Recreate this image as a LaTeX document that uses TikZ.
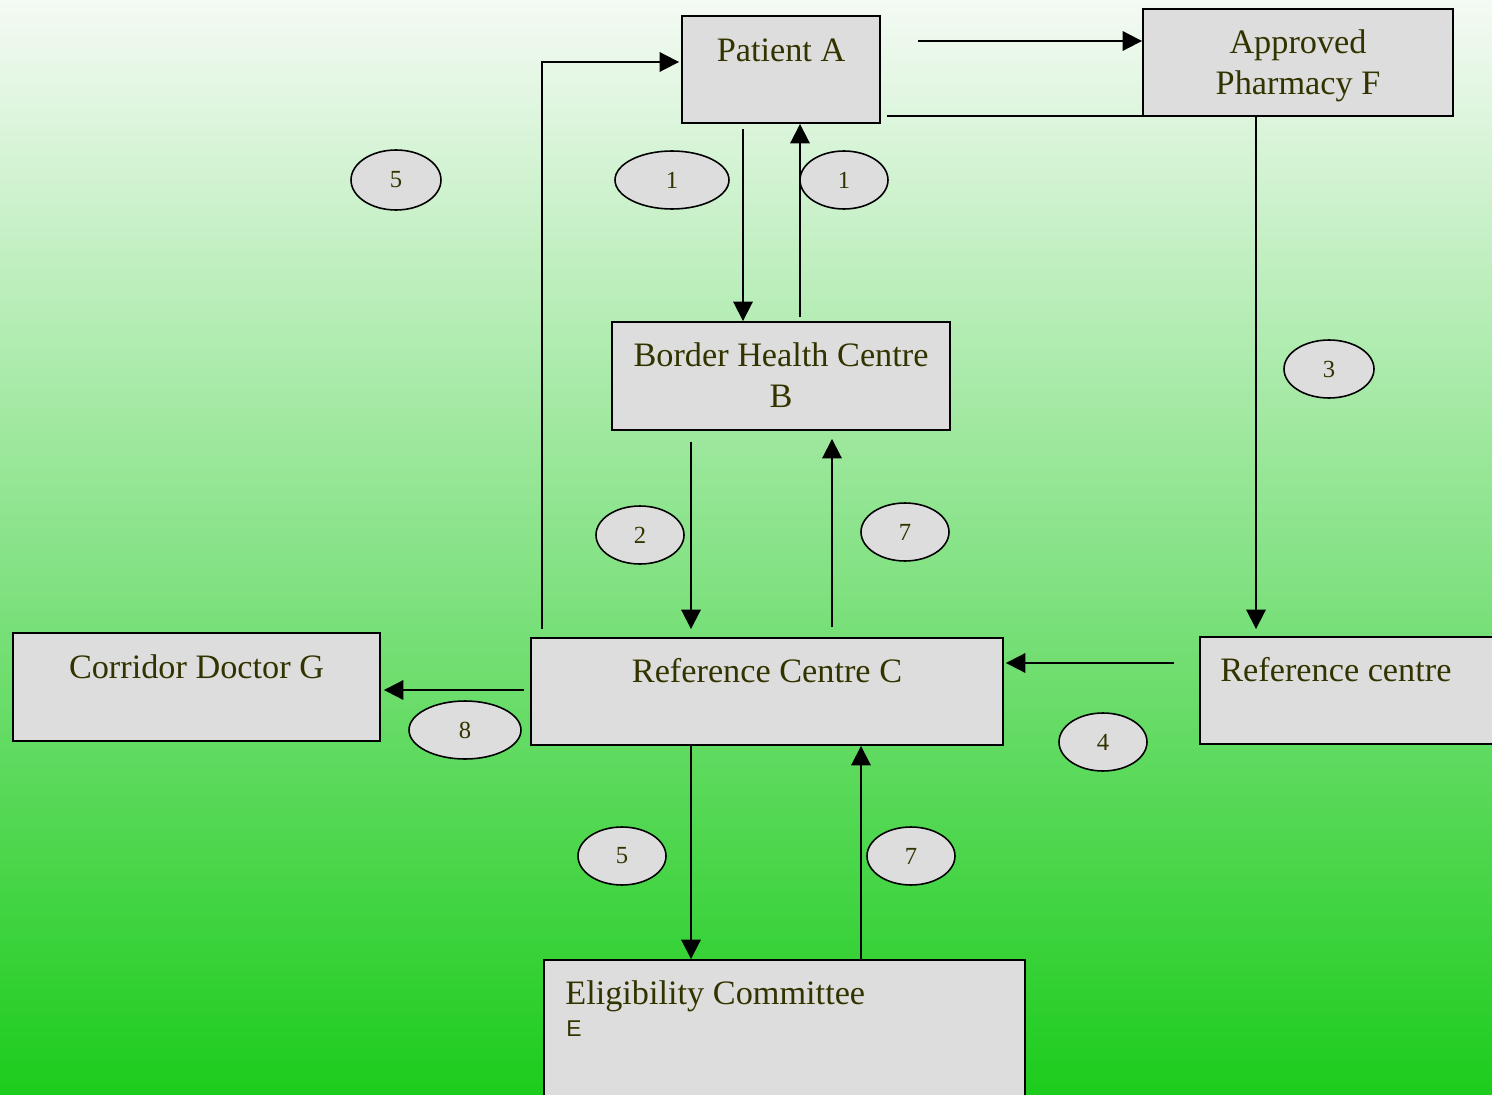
\documentclass[tikz,border=0pt]{standalone}
\usepackage{fontspec}
\setmainfont{Liberation Serif}
\newfontfamily\sansfam{Liberation Sans}
\usepackage{xcolor}
\usepackage{tikz}
\usetikzlibrary{calc, shapes.geometric, arrows.meta}
\definecolor{bgtop}{RGB}{244,250,244}
\definecolor{bgbottom}{RGB}{28,204,28}
\definecolor{boxgray}{RGB}{221,221,221}
\definecolor{textolive}{RGB}{51,51,0}
\tikzset{
    block/.style={
        draw, fill = boxgray,
        line width = 1.1pt,
        inner sep = 0pt
    },
    tag/.style={
        draw, ellipse, fill = boxgray,
        line width = 0.9pt, inner sep = 0pt,
        text = textolive,
        font = \fontsize{14}{16}\selectfont
    },
    boxtext/.style = {text = textolive, inner sep = 0pt, font = \fontsize{19.5}{23.2}\selectfont},
    line/.style = {-{Triangle[length=11pt, width=11pt]}, line width = 1.1pt}
}

\begin{document}
\begin{tikzpicture}[x=0.02cm, y=-0.02cm]

    % Background
    \useasboundingbox (0,0) rectangle (1492,1095);
    \clip (0,0) rectangle (1492,1095);
    \shade[top color=bgtop, bottom color=bgbottom] (0,0) rectangle (1492,1095);

    % Blocks
    \node[block, minimum width=3.96cm, minimum height=2.14cm] (patient) at (781,69.5) {};
    \node[block, minimum width=6.2cm, minimum height=2.14cm] (pharmacy) at (1298,62.5) {};
    \node[block, minimum width=6.76cm, minimum height=2.16cm] (border) at (781,376) {};
    \node[block, minimum width=9.44cm, minimum height=2.14cm] (refC) at (767,691.5) {};
    \node[block, minimum width=7.34cm, minimum height=2.16cm] (corridor) at (196.5,687) {};
    \node[block, minimum width=6.4cm, minimum height=2.14cm] (refcentre) at (1360,690.5) {};
    \node[block, minimum width=9.62cm, minimum height=3.4cm] (elig) at (784.5,1045) {};

    % Block texts
    \node[boxtext, anchor=base] (patientT) at (781,62) {Patient A};
    \node[boxtext, anchor=north, align=center] (pharmacyT) at (1298,29.5) {Approved\\Pharmacy F};
    \node[boxtext, anchor=north, align=center] (borderT) at (781,342.5) {Border Health Centre\\B};
    \node[boxtext, anchor=base] (refCT) at (767,682) {Reference Centre C};
    \node[boxtext, anchor=base] (corridorT) at (196.5,678) {Corridor Doctor G};
    \node[boxtext, anchor=base west] (refcentreT) at (1220,681) {Reference centre};
    \node[boxtext, anchor=base west] (eligT) at (565,1004) {Eligibility Committee};
    \node[text=textolive, inner sep=0pt, anchor=base west, font=\sansfam\fontsize{13}{15}\selectfont] (eligE) at (566,1036) {E};

    % Step numbers
    \node[tag, minimum width=1.8cm, minimum height=1.2cm] (five1) at (396,180) {5};
    \node[tag, minimum width=2.28cm, minimum height=1.16cm] (one1) at (672,180) {1};
    \node[tag, minimum width=1.76cm, minimum height=1.16cm] (one2) at (844,180) {1};
    \node[tag, minimum width=1.8cm, minimum height=1.16cm] (three) at (1329,369) {3};
    \node[tag, minimum width=1.76cm, minimum height=1.16cm] (two) at (640,535) {2};
    \node[tag, minimum width=1.76cm, minimum height=1.16cm] (seven1) at (905,532) {7};
    \node[tag, minimum width=2.24cm, minimum height=1.16cm] (eight) at (465,730) {8};
    \node[tag, minimum width=1.76cm, minimum height=1.16cm] (four) at (1103,742) {4};
    \node[tag, minimum width=1.76cm, minimum height=1.16cm] (five2) at (622,856) {5};
    \node[tag, minimum width=1.76cm, minimum height=1.16cm] (seven2) at (911,856) {7};

    % Lines
    \draw[line] ($(patient.east)+(37,-28.5)$) -- ($(pharmacy.west)+(0,-21.5)$);
    \draw[line width=1.1pt] ($(patient.south east)+(6,-8)$) -- ($(pharmacy.south west)+(0,-1)$);
    \draw[line] ($(pharmacy.south)+(-42,0)$) -- ($(refcentre.north)+(-104,-7)$);
    \draw[line] ($(refcentre.west)+(-25,-27.5)$) -- ($(refC.east)+(2,-28.5)$);
    \draw[line] ($(refC.west)+(-6,-1.5)$) -- ($(corridor.east)+(3,3)$);
    \draw[line] ($(patient.south)+(-38,5)$) -- ($(border.north)+(-38,0)$);
    \draw[line] ($(border.north)+(19,-4)$) -- ($(patient.south)+(19,0)$);
    \draw[line] ($(border.south)+(-90,11)$) -- ($(refC.north)+(-76,-8)$);
    \draw[line] ($(refC.north)+(65,-10)$) -- ($(border.south)+(51,8)$);
    \draw[line] ($(refC.south)+(-76,0)$) -- ($(elig.north)+(-93.5,0)$);
    \draw[line] ($(elig.north)+(76.5,0)$) -- ($(refC.south)+(94,0)$);
    \draw[line] ($(refC.north west)+(12,-8)$) |- ($(patient.west)+(-2,-7.5)$);

\end{tikzpicture}
\end{document}
